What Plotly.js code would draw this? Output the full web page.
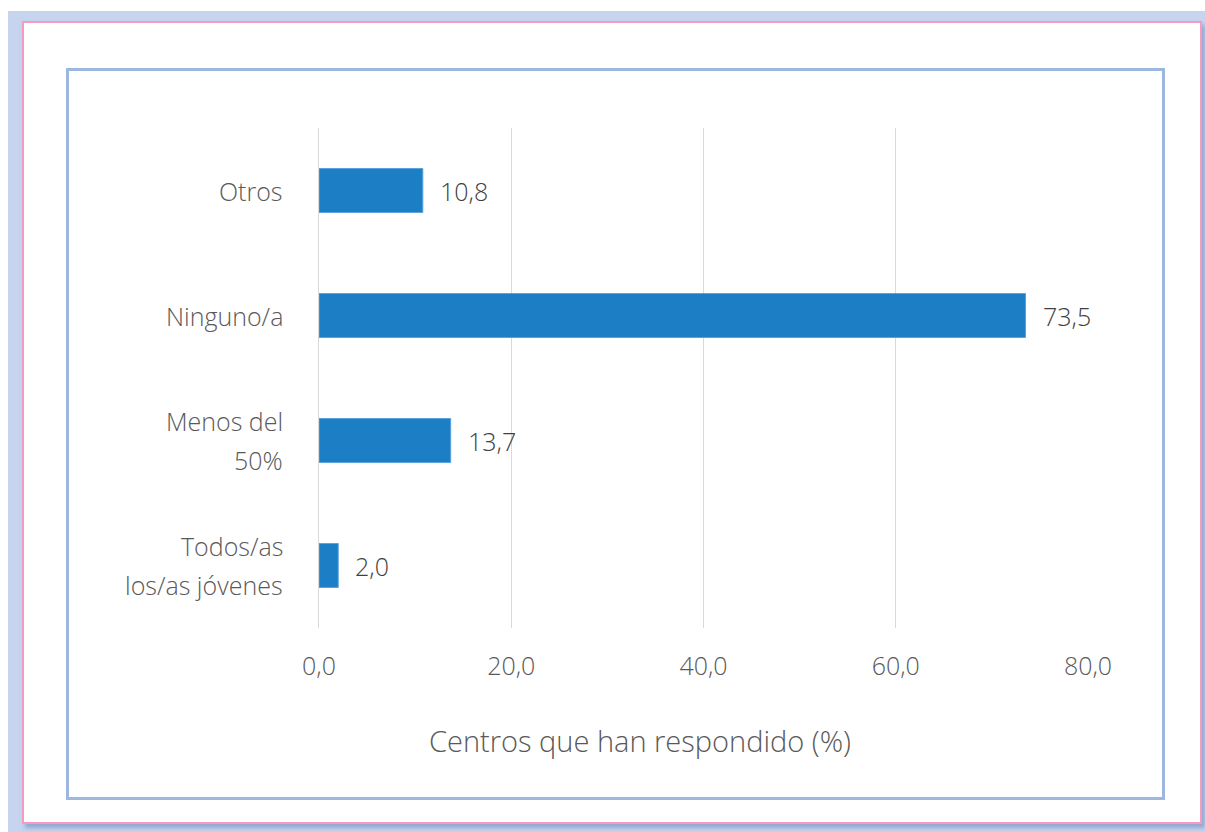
<!DOCTYPE html>
<html>
<head>
<meta charset="utf-8">
<script src="https://cdn.plot.ly/plotly-3.0.1.min.js"></script>
<style>
  html, body { margin:0; padding:0; background:#ffffff; width:1205px; height:832px; overflow:hidden; }
  #bg { position:absolute; left:8px; top:11px; width:1197px; height:821px; background:#c6d4ee; }
  #panel { position:absolute; left:22px; top:21px; width:1176px; height:799px; background:#ffffff;
           border:2px solid #f59ac0; box-shadow: 3px 4px 4px rgba(110,130,180,0.55); }
  #frame { position:absolute; left:66px; top:68px; width:1093px; height:726px; border:3px solid #9cb7e0; background:#ffffff; }
  #chart { position:absolute; left:0; top:0; width:1205px; height:832px; }
</style>
</head>
<body>
<div id="bg"></div>
<div id="panel"></div>
<div id="frame"></div>
<div id="chart"></div>
<script>
const categories = ['Todos/as los/as jóvenes', 'Menos del 50%', 'Ninguno/a', 'Otros'];
const tickLabelLines = [['Todos/as', 'los/as jóvenes'], ['Menos del', '50%'], ['Ninguno/a'], ['Otros']];
const values = [2.0, 13.7, 73.5, 10.8];
const xTicks = [0, 20, 40, 60, 80];
const xTitle = 'Centros que han respondido (%)';

const FONT = '"Open Sans", Lato, sans-serif';
const W = 300;
const fmt = v => v.toFixed(1).replace('.', ',');

const trace = {
  type: 'bar',
  orientation: 'h',
  x: values,
  y: categories,
  marker: { color: '#1c7ec4', line: { color: '#5aa3dc', width: 1 } },
  hoverinfo: 'none'
};

const labelAnns = values.map((v, i) => ({
  x: v, y: categories[i], xref: 'x', yref: 'y',
  text: fmt(v), showarrow: false, xanchor: 'left', yanchor: 'middle',
  xshift: 15, font: { family: FONT, size: 25, color: '#404040', weight: W }
}));

const tickAnns = [];
tickLabelLines.forEach((lines, i) => {
  const n = lines.length;
  lines.forEach((line, j) => {
    tickAnns.push({
      x: 0, y: categories[i], xref: 'paper', yref: 'y',
      text: line, showarrow: false, xanchor: 'right', yanchor: 'middle',
      xshift: -34, yshift: ((n - 1) / 2 - j) * 39,
      font: { family: FONT, size: 25, color: '#595959', weight: W }
    });
  });
});

const layout = {
  width: 1205, height: 832,
  paper_bgcolor: 'rgba(0,0,0,0)', plot_bgcolor: 'rgba(0,0,0,0)',
  margin: { l: 319, r: 117, t: 128, b: 204, pad: 0 },
  separators: ',.',
  bargap: 0.648,
  showlegend: false,
  font: { family: FONT, size: 25, color: '#595959', weight: W },
  xaxis: {
    range: [0, 80], tickvals: xTicks, tickformat: '.1f',
    showgrid: true, gridcolor: '#d9d9d9', gridwidth: 1,
    zeroline: false, showline: false, ticks: '',
    ticklabelstandoff: 21,
    tickfont: { family: FONT, size: 25, color: '#595959', weight: W },
    fixedrange: true
  },
  yaxis: {
    type: 'category', categoryorder: 'array', categoryarray: categories,
    showgrid: false, zeroline: false, showline: true, linecolor: '#d9d9d9', linewidth: 1,
    ticks: '', showticklabels: false,
    fixedrange: true
  },
  annotations: labelAnns.concat(tickAnns, [{
    xref: 'paper', yref: 'paper', x: (640 - 319) / 769, y: -0.224,
    xanchor: 'center', yanchor: 'middle', showarrow: false,
    text: xTitle, font: { family: FONT, size: 29, color: '#595959', weight: W }
  }])
};

Plotly.newPlot('chart', [trace], layout, { displayModeBar: false, staticPlot: true });
</script>
</body>
</html>
